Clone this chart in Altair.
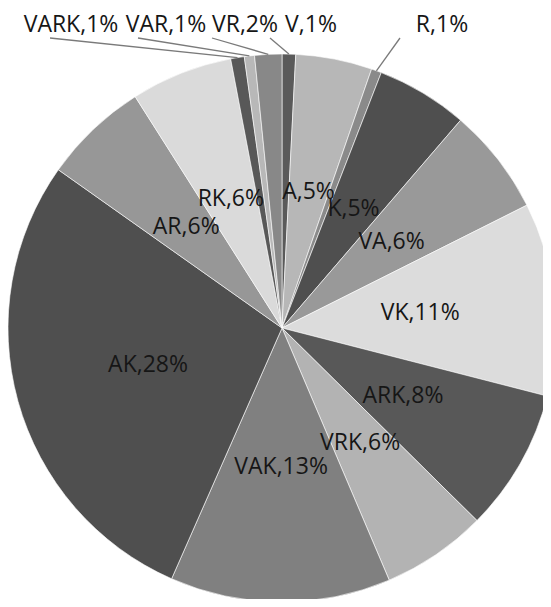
import math
import altair as alt
import pandas as pd

# ---- data (clockwise from 12 o'clock) ----
categories = ["V", "A", "R", "K", "VA", "VK", "ARK", "VRK", "VAK", "AK", "AR", "RK", "VARK", "VAR", "VR"]
shares = [0.8, 4.5, 0.6, 5.4, 6.3, 11.4, 8.4, 6.2, 13.0, 28.2, 6.2, 6.0, 0.8, 0.6, 1.6]
pct_labels = [1, 5, 1, 5, 6, 11, 8, 6, 13, 28, 6, 6, 1, 1, 2]
colors = ["#5a5a5a", "#b7b7b7", "#8a8a8a", "#4f4f4f", "#999999", "#dcdcdc", "#585858", "#b3b3b3",
          "#808080", "#4f4f4f", "#979797", "#dadada", "#585858", "#b8b8b8", "#888888"]
outside = ["V", "R", "VARK", "VAR", "VR"]

# ---- layout (page pixels) ----
M = 8
CX, CY, R = 282 - M, 328 - M, 274
R_LABEL = 139
FONT = "Open Sans"
FS = 23
TXT = "#161616"
out_label_pos = {"VARK": (71, 25), "VAR": (166, 25), "VR": (245, 25), "V": (311, 25), "R": (442, 25)}
leader_start = {"VARK": (50, 38), "VAR": (138, 38), "VR": (212, 38), "V": (270, 38), "R": (400, 38)}

labels = [f"{c},{p}%" for c, p in zip(categories, pct_labels)]
df = pd.DataFrame({"cat": categories, "share": shares, "label": labels})
df["idx"] = range(len(df))
df["inside"] = [("" if c in outside else l) for c, l in zip(categories, labels)]

total = sum(shares)
rows = []
cum = 0.0
for c, s, l in zip(categories, shares, labels):
    mid = (cum + s / 2) / total * 2 * math.pi
    cum += s
    if c in outside:
        rx = CX + R * math.sin(mid)
        ry = CY - R * math.cos(mid)
        sx, sy = leader_start[c]
        tx, ty = out_label_pos[c]
        rows.append({"label": l, "x1": sx - M, "y1": sy - M, "x2": rx, "y2": ry,
                     "tx": tx - M, "ty": ty - M})
out_df = pd.DataFrame(rows)

theta = alt.Theta("share:Q", stack=True)
order = alt.Order("idx:Q")

arcs = alt.Chart(df).mark_arc(outerRadius=R, stroke="white", strokeWidth=0.6).encode(
    theta=theta,
    order=order,
    color=alt.Color("cat:N", scale=alt.Scale(domain=categories, range=colors), legend=None),
    x=alt.value(CX),
    y=alt.value(CY),
)

text_in = alt.Chart(df).mark_text(radius=R_LABEL, fontSize=FS, font=FONT, fontWeight=500, color=TXT).encode(
    theta=theta,
    order=order,
    detail="cat:N",
    text="inside:N",
    x=alt.value(CX),
    y=alt.value(CY),
)

leaders = alt.Chart(out_df).mark_rule(color="#7a7a7a", strokeWidth=1.3).encode(
    x=alt.X("x1:Q", scale=None, axis=None),
    y=alt.Y("y1:Q", scale=None, axis=None),
    x2="x2:Q",
    y2="y2:Q",
)

text_out = alt.Chart(out_df).mark_text(fontSize=FS, font=FONT, fontWeight=500, color=TXT).encode(
    x=alt.X("tx:Q", scale=None, axis=None),
    y=alt.Y("ty:Q", scale=None, axis=None),
    text="label:N",
)

chart = alt.layer(arcs, text_in, leaders, text_out).properties(
    width=535, height=591, padding=0, autosize=alt.AutoSizeParams(type="none")
).configure_view(stroke=None)

chart.save("out.html", embed_options={"renderer": "svg", "actions": False})
